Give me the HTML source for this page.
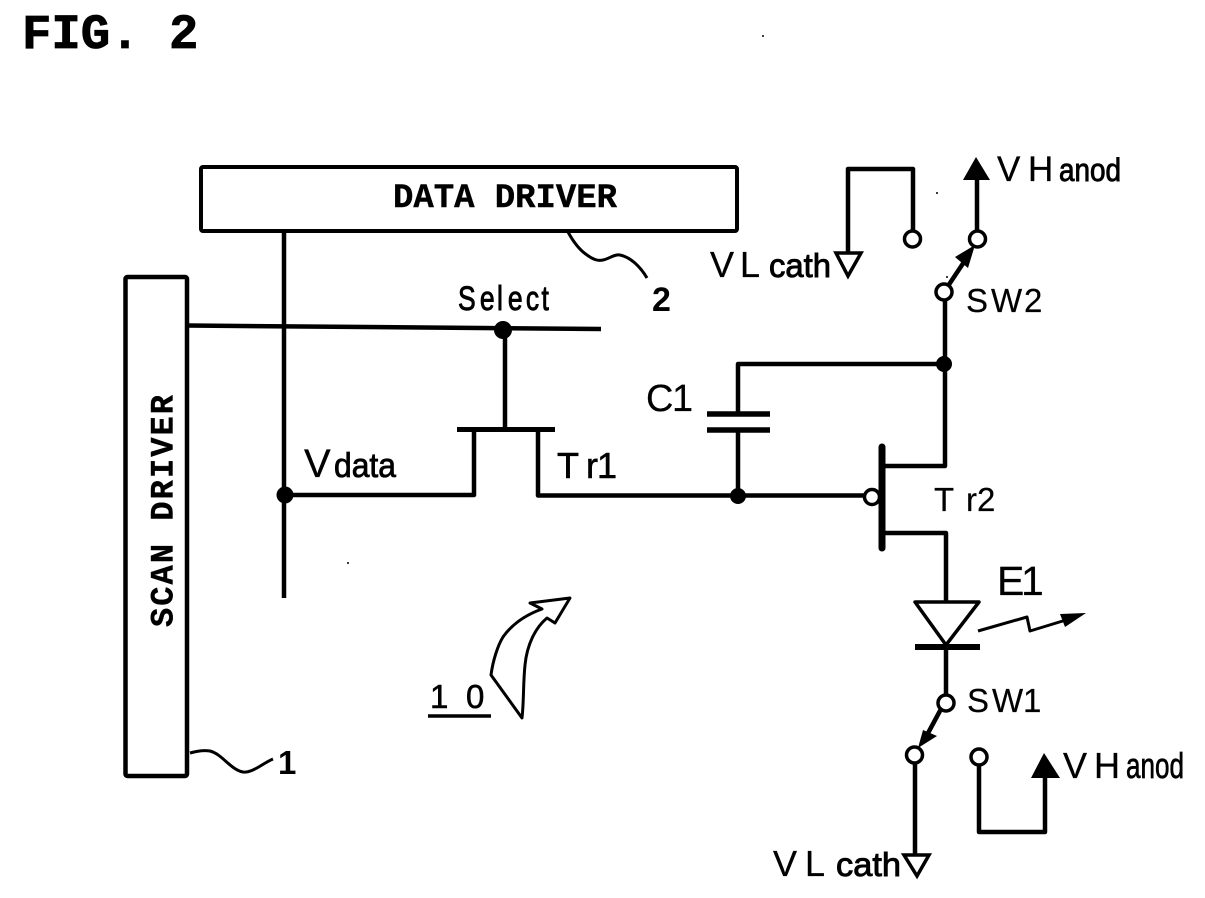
<!DOCTYPE html>
<html><head><meta charset="utf-8"><style>html,body{margin:0;padding:0;background:#fff}svg{display:block}text{stroke:#000}</style></head><body>
<svg width="1205" height="898" viewBox="0 0 1205 898" xmlns="http://www.w3.org/2000/svg">
<rect width="1205" height="898" fill="#fff"/>
<g fill="none" stroke="#000" stroke-width="4.5" stroke-linejoin="round">
<rect x="201" y="167" width="536" height="64" rx="2" stroke-width="4"/>
<rect x="125.500" y="277" width="61.500" height="499" rx="2" stroke-width="4.500"/>
<path d="M284 231V598"/>
<path d="M187 325.500L601 329"/>
<path d="M505 330V430"/>
<path d="M457 429.500H555" stroke-width="5"/>
<path d="M285 495H474V430"/>
<path d="M538 430V495.500H866"/>
<path d="M738 496V430"/>
<path d="M738 413V364H945"/>
<path d="M707 414H770M707 430H770" stroke-width="5.500"/>
<path d="M945 300V466H884"/>
<path d="M882 447V548" stroke-width="7" stroke-linecap="round"/>
<path d="M884 533H946V601"/>
<path d="M946 646V697"/>
<path d="M915 647H980" stroke-width="6"/>
<path d="M915 602H979L946 645Z" stroke-width="3.500"/>
<path d="M915 762V856"/>
<path d="M979 763V832H1045V775"/>
<path d="M977 232V178"/>
<path d="M913 234V169H848V252"/>
<path d="M948 286L968 256" stroke-width="4.500"/>
<path d="M941 709L927 735" stroke-width="4.500"/>
<path d="M978 631L1027 617L1030 631L1066 620" stroke-width="3"/>
<path d="M568 232C574 243 581 251 587 255C594 260 598 261 603 260C609 259 614 254 620 255C630 257 640 266 647 278" stroke-width="3"/>
<path d="M190 753C197 751 204 750 210 751C222 754 231 770 243 772C253 773 263 763 273 759" stroke-width="3"/>
<path d="M428 716H491" stroke-width="3.500"/>
<path d="M522 718L491 675C493 660 498 645 503 637C513 623 528 614 542 609L530 603L570 598L555 623L547 618C535 628 527 645 525 665C523 685 524 700 522 718Z" stroke-width="3"/>
</g>
<g fill="#000">
<circle cx="285" cy="495" r="8.500"/><circle cx="503" cy="330" r="9"/><circle cx="738" cy="496" r="8"/><circle cx="944" cy="364" r="8"/>
<path d="M963 180L976 157L990 180Z"/>
<path d="M1031 778L1044 753L1060 778Z"/>
<path d="M975 245L955 257L968 268Z"/>
<path d="M918 748L923 730L937 736Z"/>
<path d="M1060 614L1086 613L1065 627Z"/>
<circle cx="763" cy="36" r="1"/><circle cx="937" cy="193" r="1"/><circle cx="947" cy="277" r="1"/><circle cx="348" cy="563" r="1"/>
</g>
<g fill="#fff" stroke="#000" stroke-width="3.500">
<circle cx="872" cy="497" r="7.500"/>
<circle cx="912.500" cy="239" r="8"/><circle cx="977.500" cy="239" r="8"/><circle cx="944" cy="292" r="8"/>
<circle cx="946" cy="703" r="8"/><circle cx="914.500" cy="755" r="8"/><circle cx="979" cy="757" r="8"/>
<path d="M836 253H861L848 276Z"/>
<path d="M904 855H929L917 876Z"/>
</g>
<g fill="#000" font-family="'Liberation Sans',sans-serif" stroke-width="0">
<text x="22" y="48" font-family="'Liberation Mono',monospace" font-weight="700" font-size="49" style="stroke-width:.8">FIG. 2</text>
<text x="393" y="207" font-family="'Liberation Mono',monospace" font-weight="700" font-size="34" style="stroke-width:.4" textLength="224">DATA DRIVER</text>
<text transform="translate(172.500 627) rotate(-90)" font-family="'Liberation Mono',monospace" font-weight="700" font-size="32" style="stroke-width:.4" textLength="232">SCAN DRIVER</text>
<text y="181" style="stroke-width:.3"><tspan font-size="35" x="997 1028">VH</tspan><tspan font-size="32" style="stroke-width:.9" x="1059" textLength="62" lengthAdjust="spacingAndGlyphs">anod</tspan></text>
<text y="277" style="stroke-width:.3"><tspan font-size="36" x="710 740">VL</tspan><tspan font-size="33" style="stroke-width:.9" x="769" textLength="62" lengthAdjust="spacingAndGlyphs">cath</tspan></text>
<text font-size="33" y="312" x="966 991 1024" style="stroke-width:.2">SW2</text>
<text font-size="33" y="712" x="967 992 1023" style="stroke-width:.2">SW1</text>
<text transform="translate(458 310) scale(.78 1)" font-size="34" x="0 28 50 64 87 107" style="stroke-width:.9">Select</text>
<text font-size="38" x="646 672" y="411" style="stroke-width:.2">C1</text>
<text y="477" style="stroke-width:.3"><tspan font-size="40" x="304">V</tspan><tspan font-size="34" style="stroke-width:.8" x="334" textLength="62" lengthAdjust="spacingAndGlyphs">data</tspan></text>
<text font-size="36" y="478" x="557 586 597" style="stroke-width:.6">Tr1</text>
<text font-size="33" y="511" x="934 966 977" style="stroke-width:.2">Tr2</text>
<text font-size="41" y="595" x="997 1021" style="stroke-width:.2">E1</text>
<text x="652" y="311" font-size="34" font-weight="700">2</text>
<text x="278" y="774" font-size="33" font-weight="700">1</text>
<text font-size="33" y="708" x="430 450 466" style="stroke-width:.6">1 0</text>
<text y="778" style="stroke-width:.3"><tspan font-size="36" x="1063 1094">VH</tspan><tspan font-size="36" style="stroke-width:.7" x="1126" textLength="58" lengthAdjust="spacingAndGlyphs">anod</tspan></text>
<text y="876" style="stroke-width:.3"><tspan font-size="36" x="773 805">VL</tspan><tspan font-size="33" style="stroke-width:.9" x="836" textLength="65" lengthAdjust="spacingAndGlyphs">cath</tspan></text>
</g>
</svg>
</body></html>
